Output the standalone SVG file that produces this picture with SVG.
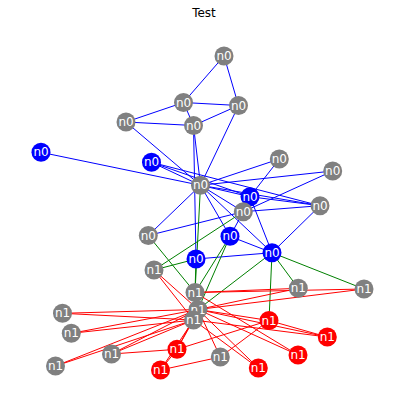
<svg xmlns="http://www.w3.org/2000/svg" width="404" height="410" viewBox="0 0 404 410">
<style>
.b{stroke:#0000ff;stroke-width:1}
.g{stroke:#008000;stroke-width:1}
.r{stroke:#ff0000;stroke-width:1}
.ng{fill:#808080}
.nb{fill:#0000ff}
.nr{fill:#ff0000}
.lbl{fill:#ffffff;font-family:"DejaVu Sans",sans-serif;font-size:12px;text-anchor:middle;dominant-baseline:central}
.title{fill:#000000;font-family:"DejaVu Sans",sans-serif;font-size:12px;text-anchor:middle}
</style>
<rect width="404" height="410" fill="#ffffff"/>
<text class="title" x="204" y="17">Test</text>
<g id="connectors">
<!-- blue n0-n0 -->
<line class="b" x1="224" y1="56" x2="183.5" y2="102.5"/>
<line class="b" x1="224" y1="56" x2="238.5" y2="105.5"/>
<line class="b" x1="183.5" y1="102.5" x2="238.5" y2="105.5"/>
<line class="b" x1="183.5" y1="102.5" x2="126" y2="122"/>
<line class="b" x1="183.5" y1="102.5" x2="193.5" y2="125.5"/>
<line class="b" x1="126" y1="122" x2="193.5" y2="125.5"/>
<line class="b" x1="193.5" y1="125.5" x2="238.5" y2="105.5"/>
<line class="b" x1="126" y1="122" x2="200.5" y2="185.3"/>
<line class="b" x1="193.5" y1="125.5" x2="200.5" y2="185.3"/>
<line class="b" x1="193.5" y1="125.5" x2="196" y2="259"/>
<line class="b" x1="238.5" y1="105.5" x2="200.5" y2="185.3"/>
<line class="b" x1="41" y1="152.3" x2="200.5" y2="185.3"/>
<line class="b" x1="151.5" y1="162.3" x2="200.5" y2="185.3"/>
<line class="b" x1="151.5" y1="162.3" x2="250" y2="196.7"/>
<line class="b" x1="151.5" y1="162.3" x2="320" y2="205.7"/>
<line class="b" x1="200.5" y1="185.3" x2="279.3" y2="159"/>
<line class="b" x1="200.5" y1="185.3" x2="332.7" y2="171"/>
<line class="b" x1="200.5" y1="185.3" x2="250" y2="196.7"/>
<line class="b" x1="200.5" y1="185.3" x2="320" y2="205.7"/>
<line class="b" x1="200.5" y1="185.3" x2="243.3" y2="211.7"/>
<line class="b" x1="200.5" y1="185.3" x2="230" y2="236.3"/>
<line class="b" x1="200.5" y1="185.3" x2="272" y2="252.7"/>
<line class="b" x1="200.5" y1="185.3" x2="148.3" y2="235.5"/>
<line class="b" x1="279.3" y1="159" x2="250" y2="196.7"/>
<line class="b" x1="332.7" y1="171" x2="243.3" y2="211.7"/>
<line class="b" x1="250" y1="196.7" x2="320" y2="205.7"/>
<line class="b" x1="250" y1="196.7" x2="272" y2="252.7"/>
<line class="b" x1="243.3" y1="211.7" x2="320" y2="205.7"/>
<line class="b" x1="243.3" y1="211.7" x2="230" y2="236.3"/>
<line class="b" x1="230" y1="236.3" x2="272" y2="252.7"/>
<line class="b" x1="196" y1="259" x2="272" y2="252.7"/>
<line class="b" x1="320" y1="205.7" x2="272" y2="252.7"/>
<line class="b" x1="148.3" y1="235.5" x2="243.3" y2="211.7"/>
<!-- green n0-n1 -->
<line class="g" x1="200.5" y1="185.3" x2="195" y2="292.5"/>
<line class="g" x1="196" y1="259" x2="195" y2="292.5"/>
<line class="g" x1="148.3" y1="235.5" x2="195" y2="292.5"/>
<line class="g" x1="154" y1="270" x2="196" y2="259"/>
<line class="g" x1="154" y1="270" x2="243.3" y2="211.7"/>
<line class="g" x1="230" y1="236.3" x2="195" y2="292.5"/>
<line class="g" x1="230" y1="236.3" x2="198" y2="309.5"/>
<line class="g" x1="272" y1="252.7" x2="198" y2="309.5"/>
<line class="g" x1="272" y1="252.7" x2="269" y2="320.5"/>
<line class="g" x1="272" y1="252.7" x2="298.3" y2="288.3"/>
<line class="g" x1="272" y1="252.7" x2="364" y2="289"/>
<!-- red n1-n1 -->
<line class="r" x1="62.5" y1="313.3" x2="198" y2="309.5"/>
<line class="r" x1="62.5" y1="313.3" x2="193.5" y2="320"/>
<line class="r" x1="71.3" y1="333.3" x2="198" y2="309.5"/>
<line class="r" x1="71.3" y1="333.3" x2="193.5" y2="320"/>
<line class="r" x1="55.5" y1="366" x2="198" y2="309.5"/>
<line class="r" x1="55.5" y1="366" x2="193.5" y2="320"/>
<line class="r" x1="111.5" y1="354" x2="198" y2="309.5"/>
<line class="r" x1="111.5" y1="354" x2="193.5" y2="320"/>
<line class="r" x1="111.5" y1="354" x2="177" y2="349.3"/>
<line class="r" x1="177" y1="349.3" x2="198" y2="309.5"/>
<line class="r" x1="177" y1="349.3" x2="193.5" y2="320"/>
<line class="r" x1="177" y1="349.3" x2="160.5" y2="370"/>
<line class="r" x1="177" y1="349.3" x2="269" y2="320.5"/>
<line class="r" x1="160.5" y1="370" x2="193.5" y2="320"/>
<line class="r" x1="160.5" y1="370" x2="220.3" y2="357"/>
<line class="r" x1="220.3" y1="357" x2="269" y2="320.5"/>
<line class="r" x1="220.3" y1="357" x2="198" y2="309.5"/>
<line class="r" x1="258.3" y1="368" x2="198" y2="309.5"/>
<line class="r" x1="258.3" y1="368" x2="193.5" y2="320"/>
<line class="r" x1="298" y1="355" x2="198" y2="309.5"/>
<line class="r" x1="298" y1="355" x2="195" y2="292.5"/>
<line class="r" x1="327.3" y1="337" x2="198" y2="309.5"/>
<line class="r" x1="327.3" y1="337" x2="193.5" y2="320"/>
<line class="r" x1="327.3" y1="337" x2="269" y2="320.5"/>
<line class="r" x1="269" y1="320.5" x2="198" y2="309.5"/>
<line class="r" x1="298.3" y1="288.3" x2="195" y2="292.5"/>
<line class="r" x1="298.3" y1="288.3" x2="198" y2="309.5"/>
<line class="r" x1="364" y1="289" x2="198" y2="309.5"/>
<line class="r" x1="364" y1="289" x2="195" y2="292.5"/>
<line class="r" x1="154" y1="270" x2="198" y2="309.5"/>
<line class="r" x1="154" y1="270" x2="193.5" y2="320"/>
</g>
<g id="nodeA"><circle class="ng" cx="224" cy="56" r="9.5"/><text class="lbl" x="224" y="56">n0</text></g>
<g id="nodeB"><circle class="ng" cx="183.5" cy="102.5" r="9.5"/><text class="lbl" x="183.5" y="102.5">n0</text></g>
<g id="nodeC"><circle class="ng" cx="238.5" cy="105.5" r="9.5"/><text class="lbl" x="238.5" y="105.5">n0</text></g>
<g id="nodeD"><circle class="ng" cx="126" cy="122" r="9.5"/><text class="lbl" x="126" y="122">n0</text></g>
<g id="nodeE"><circle class="ng" cx="193.5" cy="125.5" r="9.5"/><text class="lbl" x="193.5" y="125.5">n0</text></g>
<g id="nodeF"><circle class="nb" cx="41" cy="152.3" r="9.5"/><text class="lbl" x="41" y="152.3">n0</text></g>
<g id="nodeG"><circle class="nb" cx="151.5" cy="162.3" r="9.5"/><text class="lbl" x="151.5" y="162.3">n0</text></g>
<g id="nodeH"><circle class="ng" cx="200.5" cy="185.3" r="9.5"/><text class="lbl" x="200.5" y="185.3">n0</text></g>
<g id="nodeI"><circle class="ng" cx="279.3" cy="159" r="9.5"/><text class="lbl" x="279.3" y="159">n0</text></g>
<g id="nodeJ"><circle class="ng" cx="332.7" cy="171" r="9.5"/><text class="lbl" x="332.7" y="171">n0</text></g>
<g id="nodeK"><circle class="nb" cx="250" cy="196.7" r="9.5"/><text class="lbl" x="250" y="196.7">n0</text></g>
<g id="nodeL"><circle class="ng" cx="320" cy="205.7" r="9.5"/><text class="lbl" x="320" y="205.7">n0</text></g>
<g id="nodeM"><circle class="ng" cx="243.3" cy="211.7" r="9.5"/><text class="lbl" x="243.3" y="211.7">n0</text></g>
<g id="nodeN"><circle class="nb" cx="230" cy="236.3" r="9.5"/><text class="lbl" x="230" y="236.3">n0</text></g>
<g id="nodeO"><circle class="ng" cx="148.3" cy="235.5" r="9.5"/><text class="lbl" x="148.3" y="235.5">n0</text></g>
<g id="nodeP"><circle class="nb" cx="196" cy="259" r="9.5"/><text class="lbl" x="196" y="259">n0</text></g>
<g id="nodeQ"><circle class="nb" cx="272" cy="252.7" r="9.5"/><text class="lbl" x="272" y="252.7">n0</text></g>
<g id="node1a"><circle class="ng" cx="154" cy="270" r="9.5"/><text class="lbl" x="154" y="270">n1</text></g>
<g id="node1b"><circle class="ng" cx="195" cy="292.5" r="9.5"/><text class="lbl" x="195" y="292.5">n1</text></g>
<g id="node1c"><circle class="ng" cx="198" cy="309.5" r="9.5"/><text class="lbl" x="198" y="309.5">n1</text></g>
<g id="node1d"><circle class="ng" cx="193.5" cy="320" r="9.5"/><text class="lbl" x="193.5" y="320">n1</text></g>
<g id="node1e"><circle class="ng" cx="298.3" cy="288.3" r="9.5"/><text class="lbl" x="298.3" y="288.3">n1</text></g>
<g id="node1f"><circle class="ng" cx="364" cy="289" r="9.5"/><text class="lbl" x="364" y="289">n1</text></g>
<g id="node1g"><circle class="ng" cx="62.5" cy="313.3" r="9.5"/><text class="lbl" x="62.5" y="313.3">n1</text></g>
<g id="node1h"><circle class="ng" cx="71.3" cy="333.3" r="9.5"/><text class="lbl" x="71.3" y="333.3">n1</text></g>
<g id="node1i"><circle class="ng" cx="111.5" cy="354" r="9.5"/><text class="lbl" x="111.5" y="354">n1</text></g>
<g id="node1j"><circle class="ng" cx="55.5" cy="366" r="9.5"/><text class="lbl" x="55.5" y="366">n1</text></g>
<g id="node1k"><circle class="nr" cx="177" cy="349.3" r="9.5"/><text class="lbl" x="177" y="349.3">n1</text></g>
<g id="node1l"><circle class="nr" cx="160.5" cy="370" r="9.5"/><text class="lbl" x="160.5" y="370">n1</text></g>
<g id="node1m"><circle class="ng" cx="220.3" cy="357" r="9.5"/><text class="lbl" x="220.3" y="357">n1</text></g>
<g id="node1n"><circle class="nr" cx="258.3" cy="368" r="9.5"/><text class="lbl" x="258.3" y="368">n1</text></g>
<g id="node1o"><circle class="nr" cx="298" cy="355" r="9.5"/><text class="lbl" x="298" y="355">n1</text></g>
<g id="node1p"><circle class="nr" cx="269" cy="320.5" r="9.5"/><text class="lbl" x="269" y="320.5">n1</text></g>
<g id="node1q"><circle class="nr" cx="327.3" cy="337" r="9.5"/><text class="lbl" x="327.3" y="337">n1</text></g>
</svg>
